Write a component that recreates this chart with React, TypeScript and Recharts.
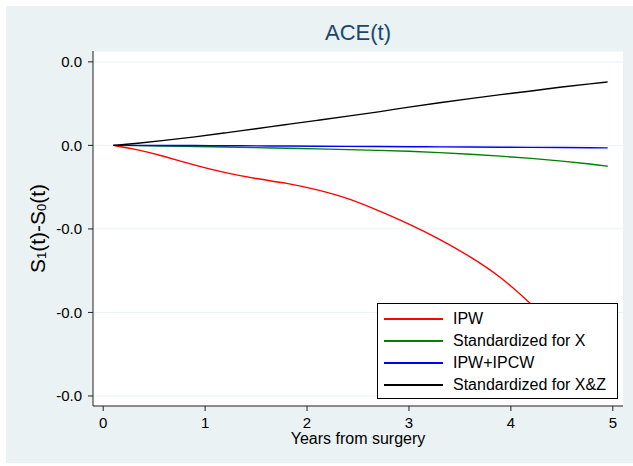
import React from 'react';
import { LineChart, Line, XAxis, YAxis, CartesianGrid, Legend } from 'recharts';

// years from surgery
const years = [0.1, 0.3, 0.6, 0.9, 1.2, 1.5, 1.8, 2.1, 2.4, 2.7, 3.0, 3.3, 3.6, 3.9, 4.2, 4.5, 4.8, 4.95];

const ipw = [0, -0.0004, -0.0013, -0.0024, -0.0033, -0.004, -0.0045, -0.0053, -0.0063, -0.0078, -0.0094, -0.0112, -0.0133, -0.0157, -0.019, -0.0226, -0.0266, -0.0288];
const stdX = [0, -0.00002, -0.00007, -0.00013, -0.0002, -0.00027, -0.00034, -0.00042, -0.0005, -0.0006, -0.0007, -0.00086, -0.00105, -0.00128, -0.00155, -0.00188, -0.00225, -0.0025];
const ipwIpcw = [0, 0, -0.00001, -0.00002, -0.00004, -0.00006, -0.00008, -0.0001, -0.00012, -0.00014, -0.00016, -0.00018, -0.0002, -0.00022, -0.00024, -0.00026, -0.00028, -0.0003];
const stdXZ = [0, 0.0002, 0.0006, 0.001, 0.0015, 0.002, 0.0025, 0.003, 0.0035, 0.004, 0.0046, 0.0051, 0.0056, 0.0061, 0.0065, 0.007, 0.0074, 0.0076];

const xTicks = [0, 1, 2, 3, 4, 5];
const yTicks = [-0.03, -0.02, -0.01, 0, 0.01];

const series = [
    { key: 'ipw', name: 'IPW', color: '#ff0000', values: ipw },
    { key: 'stdX', name: 'Standardized for X', color: '#008000', values: stdX },
    { key: 'ipwIpcw', name: 'IPW+IPCW', color: '#0000ff', values: ipwIpcw },
    { key: 'stdXZ', name: 'Standardized for X&Z', color: '#000000', values: stdXZ },
];

const data = years.map((t, i) => {
    const row: Record<string, number> = { t };
    series.forEach(s => { row[s.key] = s.values[i]; });
    return row;
});

const FONT = '"Liberation Sans", Arial, Helvetica, sans-serif';

function YTitle(props: any) {
    const vb = props.viewBox || { y: 51, height: 355 };
    const cx = 37;
    const cy = vb.y + vb.height / 2;
    return (
        <text transform={`rotate(-90 ${cx} ${cy})`} x={cx} y={cy} textAnchor="middle"
            dominantBaseline="central" fontSize={21} fill="#000" fontFamily={FONT}>
            S<tspan fontSize={13} dy={4}>1</tspan>
            <tspan dy={-4}>(t)-S</tspan>
            <tspan fontSize={13} dy={4}>0</tspan>
            <tspan dy={-4}>(t)</tspan>
        </text>
    );
}

// keep the legend in the series order (Stata draws it that way)
function LegendBox() {
    return (
        <div style={{ boxSizing: 'border-box', width: 241, height: 96, border: '1px solid #000',
            background: '#fff', padding: '4px 0 0 6px', fontFamily: FONT, fontSize: 16 }}>
            {series.map(s => (
                <div key={s.key} style={{ display: 'flex', alignItems: 'center', height: 22 }}>
                    <div style={{ width: 59, height: 2, background: s.color }} />
                    <span style={{ marginLeft: 10, color: '#000', whiteSpace: 'nowrap' }}>{s.name}</span>
                </div>
            ))}
        </div>
    );
}

export default function App() {
    return (
        <div style={{ position: 'absolute', left: 0, top: 0, width: 633, height: 466, background: '#fff' }}>
            <div style={{ position: 'absolute', left: 6, top: 6, width: 627, height: 457, background: '#eaf2f3' }} />
            <div style={{ position: 'absolute', left: 0, top: 19, width: 716, textAlign: 'center',
                fontFamily: FONT, fontSize: 22, color: '#1a476f', lineHeight: '28px' }}>
                ACE(t)
            </div>
            <div style={{ position: 'absolute', left: 0, top: 0 }}>
                <LineChart width={633} height={466} data={data}
                    margin={{ top: 51, right: 10, bottom: 20, left: 33 }}>
                    <CartesianGrid horizontal vertical={false} fill="#ffffff" stroke="#eaf2f3" strokeWidth={1} />
                    <XAxis dataKey="t" type="number" domain={[-0.1, 5.1]} ticks={xTicks} height={40}
                        allowDataOverflow tickSize={5} tickMargin={6} stroke="#222"
                        tick={{ fill: '#000', fontSize: 15, fontFamily: FONT }}
                        label={{ value: 'Years from surgery', position: 'insideBottom', offset: 2,
                            fill: '#000', fontSize: 16, fontFamily: FONT }} />
                    <YAxis type="number" domain={[-0.0312, 0.0113]} ticks={yTicks} width={60}
                        allowDataOverflow tickSize={5} tickMargin={6} stroke="#222"
                        tickFormatter={(v: number) => v.toFixed(1)}
                        tick={{ fill: '#000', fontSize: 15, fontFamily: FONT }}
                        label={<YTitle />} />
                    {series.map(s => (
                        <Line key={s.key} dataKey={s.key} name={s.name} type="basis" stroke={s.color}
                            strokeWidth={1.4} dot={false} isAnimationActive={false} />
                    ))}
                    <Legend layout="vertical" align="center" verticalAlign="middle" content={<LegendBox />}
                        wrapperStyle={{ left: 377, top: 303, width: 241, height: 96 }} />
                </LineChart>
            </div>
        </div>
    );
}
